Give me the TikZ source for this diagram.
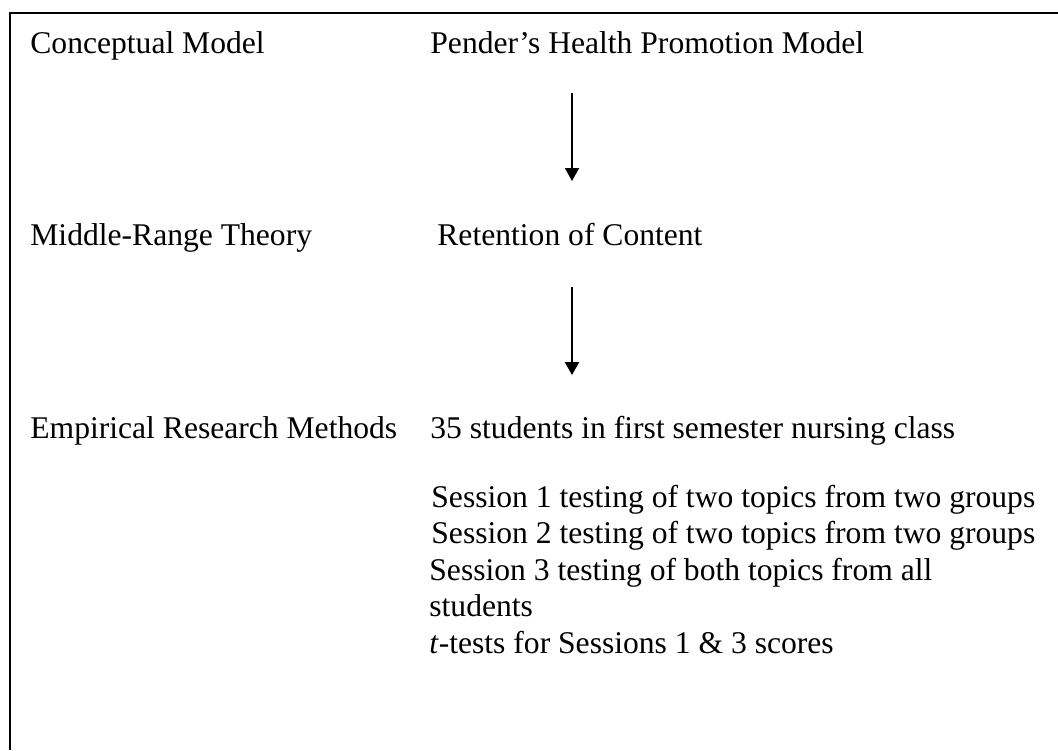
\documentclass[tikz,border=0pt]{standalone}
\usepackage{fontspec}
\setmainfont{Liberation Serif}
\usetikzlibrary{arrows.meta,positioning}

\begin{document}
\begin{tikzpicture}[
  x=0.5pt, y=-0.5pt,
  txt/.style={anchor=base west, inner sep=0pt, font=\fontsize{15.8}{18.3}\selectfont},
  arr/.style={-{Triangle[width=7pt,length=6.5pt]}, line width=1pt},
  frame/.style={line width=1.2pt},
]
  \useasboundingbox (0,0) rectangle (1058,750);
  % frame (only top and left edges are in view)
  \draw[frame] (10,750) -- (10,13) -- (1058,13);

  % left column
  \node[txt] (concept) at (30,53) {Conceptual Model};
  \node[txt] (middle) at (30,245) {Middle-Range Theory};
  \node[txt] (empir) at (30,438) {Empirical Research Methods};

  % right column
  \node[txt] (pender) at (430,53) {Pender’s Health Promotion Model};
  \node[txt] (retent) at (437,245) {Retention of Content};
  \node[txt] (sample) at (430,438) {35 students in first semester nursing class};
  \node[txt] (sess1) at (431,507) {Session 1 testing of two topics from two groups};
  \node[txt] (sess2) at (431,543) {Session 2 testing of two topics from two groups};
  \node[txt] (sess3) at (429,580) {Session 3 testing of both topics from all};
  \node[txt] (sess3b) at (429,616) {students};
  \node[txt] (ttest) at (429,653) {\textit{t}-tests for Sessions 1 \& 3 scores};

  % arrows
  \coordinate (a1s) at (572,93);
  \coordinate (a1e) at (572,181);
  \coordinate (a2s) at (572,287);
  \coordinate (a2e) at (572,375);
  \draw[arr] (a1s) -- (a1e);
  \draw[arr] (a2s) -- (a2e);
\end{tikzpicture}
\end{document}
